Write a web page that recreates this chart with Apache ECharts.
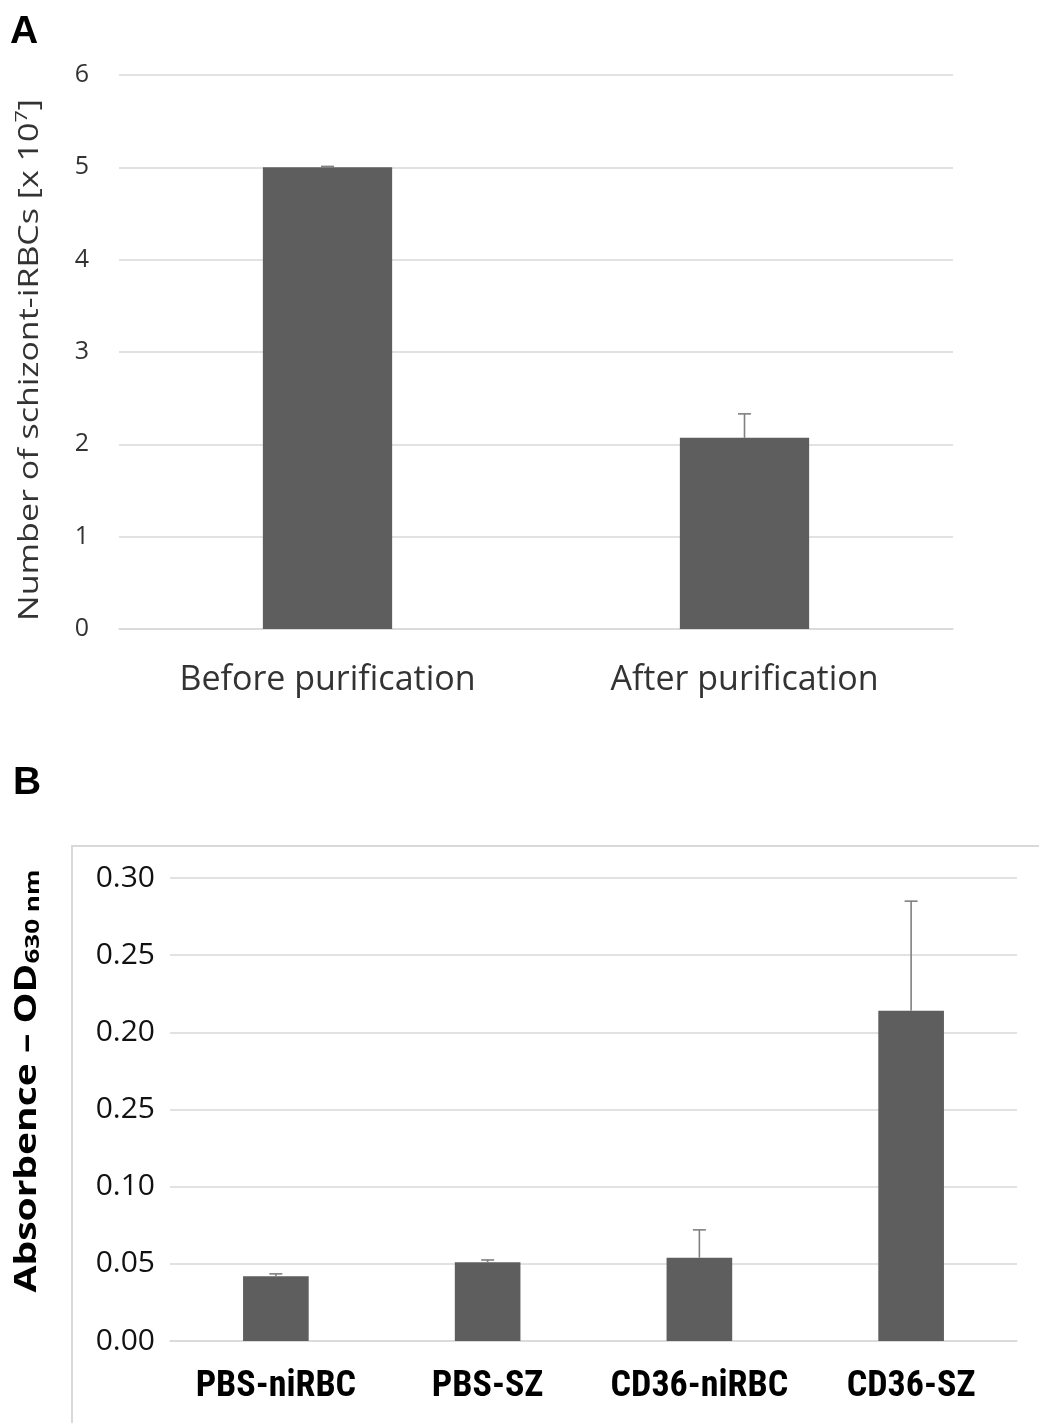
<!DOCTYPE html>
<html><head><meta charset="utf-8">
<script src="https://cdn.jsdelivr.net/npm/echarts@6/dist/echarts.min.js"></script>
<style>html,body{margin:0;padding:0;background:#fff;}#c{width:1039px;height:1423px;}</style>
</head><body><div id="c"></div>
<script>
// Panel A data
const catsA = ['Before purification', 'After purification'];
const valsA = [5.0, 2.07];
const errTopA = [5.01, 2.33];
// Panel B data
const catsB = ['PBS-niRBC', 'PBS-SZ', 'CD36-niRBC', 'CD36-SZ'];
const valsB = [0.042, 0.051, 0.054, 0.214];
const errTopB = [0.0435, 0.0525, 0.072, 0.285];
const tickLabelsB = ['0.00', '0.05', '0.10', '0.25', '0.20', '0.25', '0.30'];

const barColor = '#5e5e5e';
const errColor = '#808080';
const gridColor = '#d9d9d9';
const font = '"Open Sans", "Noto Sans", sans-serif';

function errSeries(xi, yi, tops, vals) {
  return {
    type: 'custom', xAxisIndex: xi, yAxisIndex: yi, silent: true, z: 5,
    data: vals.map((v, i) => [i, v, tops[i]]),
    renderItem: function (params, api) {
      const p0 = api.coord([api.value(0), api.value(1)]);
      const p1 = api.coord([api.value(0), api.value(2)]);
      const half = 6.5;
      const st = { stroke: errColor, lineWidth: 1.6 };
      return { type: 'group', children: [
        { type: 'line', shape: { x1: p0[0], y1: p0[1], x2: p1[0], y2: p1[1] }, style: st },
        { type: 'line', shape: { x1: p1[0] - half, y1: p1[1], x2: p1[0] + half, y2: p1[1] }, style: st }
      ]};
    }
  };
}

const chart = echarts.init(document.getElementById('c'), null, { renderer: 'canvas' });
chart.setOption({
  backgroundColor: '#fff',
  animation: false,
  grid: [
    { left: 119, right: 86, top: 75, height: 554 },
    { left: 170, right: 22, top: 878, height: 463 }
  ],
  xAxis: [
    { type: 'category', gridIndex: 0, data: catsA,
      axisLine: { show: true, lineStyle: { color: gridColor, width: 1.5 } }, axisTick: { show: false },
      axisLabel: { color: '#333', fontSize: 34, fontFamily: font, margin: 34, interval: 0 } },
    { type: 'category', gridIndex: 1, data: catsB,
      axisLine: { show: true, lineStyle: { color: gridColor, width: 1.5 } }, axisTick: { show: false },
      axisLabel: { color: '#000', fontSize: 36, fontWeight: 'bold', fontFamily: '"Liberation Sans Narrow", "Roboto Condensed", sans-serif', margin: 28, interval: 0, hideOverlap: false } }
  ],
  yAxis: [
    { type: 'value', gridIndex: 0, min: 0, max: 6, interval: 1,
      axisLine: { show: false }, axisTick: { show: false },
      splitLine: { lineStyle: { color: gridColor, width: 1.5 } },
      axisLabel: { color: '#333', fontSize: 25, fontFamily: font, margin: 30 } },
    { type: 'value', gridIndex: 1, min: 0, max: 0.3, interval: 0.05,
      axisLine: { show: false }, axisTick: { show: false },
      splitLine: { lineStyle: { color: gridColor, width: 1.5 } },
      axisLabel: { color: '#111', fontSize: 30, fontFamily: font, margin: 15,
        formatter: v => tickLabelsB[Math.round(v / 0.05)] } }
  ],
  series: [
    { type: 'bar', xAxisIndex: 0, yAxisIndex: 0, data: valsA, barWidth: '31%',
      itemStyle: { color: barColor } },
    errSeries(0, 0, errTopA, valsA),
    { type: 'bar', xAxisIndex: 1, yAxisIndex: 1, data: valsB, barWidth: '31%',
      itemStyle: { color: barColor } },
    errSeries(1, 1, errTopB, valsB)
  ],
  graphic: [
    { type: 'text', x: 10, y: 32, style: { text: 'A', fontSize: 39, fontWeight: 'bold', fontFamily: '"Liberation Sans", Arial, sans-serif', fill: '#000', align: 'left', verticalAlign: 'middle' } },
    { type: 'text', x: 13, y: 783, style: { text: 'B', fontSize: 39, fontWeight: 'bold', fontFamily: '"Liberation Sans", Arial, sans-serif', fill: '#000', align: 'left', verticalAlign: 'middle' } },
    { type: 'text', x: 30, y: 360, rotation: Math.PI / 2, scaleX: 1.26,
      style: { text: '{a|Number of schizont-iRBCs [x 10}{s|7}{a|]}', align: 'center', verticalAlign: 'middle',
        rich: {
          a: { fontSize: 27, fontFamily: font, fill: '#333', lineHeight: 32 },
          s: { fontSize: 17, fontFamily: font, fill: '#333', lineHeight: 32, verticalAlign: 'top', padding: [0, 0, 12, 0] }
        } } },
    { type: 'text', x: 27, y: 1081, rotation: Math.PI / 2, scaleX: 1.3,
      style: { text: '{a|Absorbence – OD}{s|630 nm}', align: 'center', verticalAlign: 'middle',
        rich: {
          a: { fontSize: 30, fontWeight: 'bold', fontFamily: font, fill: '#000', lineHeight: 34 },
          s: { fontSize: 20, fontWeight: 'bold', fontFamily: font, fill: '#000', lineHeight: 34, padding: [12, 0, 0, 0] }
        } } },
    { type: 'rect', shape: { x: 72, y: 846, width: 1000, height: 620 }, style: { fill: 'none', stroke: gridColor, lineWidth: 2 }, z: -1 }
  ]
});
</script></body></html>
